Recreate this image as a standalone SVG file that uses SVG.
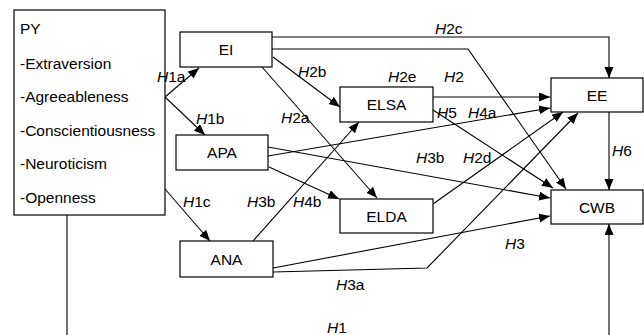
<svg xmlns="http://www.w3.org/2000/svg" width="644" height="335" viewBox="0 0 644 335">
<style>
text{font-family:"Liberation Sans",Arial,sans-serif;font-size:15.5px;fill:#000}
.box{fill:#fff;stroke:#000;stroke-width:1.2}
.c{text-anchor:middle}
.ln{fill:none;stroke:#000;stroke-width:1.1}
.i{font-style:italic}
</style>
<defs>
<marker id="ah" markerUnits="userSpaceOnUse" markerWidth="12" markerHeight="10" refX="11" refY="4.5" orient="auto">
<path d="M0,0 L11,4.5 L0,9 z" fill="#000"/>
</marker>
</defs>
<g id="connectors">
<path class="ln" d="M165,97 L199,68" marker-end="url(#ah)"/>
<path class="ln" d="M165,97 L205,135" marker-end="url(#ah)"/>
<path class="ln" d="M165,189 L210,241" marker-end="url(#ah)"/>
<path class="ln" d="M272,37 H609 V78" marker-end="url(#ah)"/>
<path class="ln" d="M272,49 H468 L566,189" marker-end="url(#ah)"/>
<path class="ln" d="M273,57 L340,107" marker-end="url(#ah)"/>
<path class="ln" d="M262,67 L377,198" marker-end="url(#ah)"/>
<path class="ln" d="M433,97 H550" marker-end="url(#ah)"/>
<path class="ln" d="M433,110 L553,188" marker-end="url(#ah)"/>
<path class="ln" d="M268,156 L550,108" marker-end="url(#ah)"/>
<path class="ln" d="M268,147 L550,198" marker-end="url(#ah)"/>
<path class="ln" d="M269,167 L339,199" marker-end="url(#ah)"/>
<path class="ln" d="M253,241 L359,122" marker-end="url(#ah)"/>
<path class="ln" d="M433,204 L563,112" marker-end="url(#ah)"/>
<path class="ln" d="M273,272 L427,268 L578,113" marker-end="url(#ah)"/>
<path class="ln" d="M273,268 L550,216" marker-end="url(#ah)"/>
<path class="ln" d="M609,112 V190" marker-end="url(#ah)"/>
<path class="ln" d="M67,215 V345 H609 V224" marker-end="url(#ah)"/>
</g>
<g id="PY">
<rect class="box" x="14" y="10" width="151" height="205"/>
<text x="20" y="34">PY</text>
<text x="20" y="69">-Extraversion</text>
<text x="20" y="102">-Agreeableness</text>
<text x="20" y="136">-Conscientiousness</text>
<text x="20" y="169">-Neuroticism</text>
<text x="20" y="203">-Openness</text>
</g>
<g id="EI"><rect class="box" x="180" y="32" width="92" height="35"/><text class="c" x="226" y="55">EI</text></g>
<g id="ELSA"><rect class="box" x="340" y="87" width="93" height="35"/><text class="c" x="386.5" y="110">ELSA</text></g>
<g id="APA"><rect class="box" x="176" y="135" width="92" height="35"/><text class="c" x="222" y="158">APA</text></g>
<g id="ELDA"><rect class="box" x="340" y="199" width="93" height="34"/><text class="c" x="386.5" y="221.5">ELDA</text></g>
<g id="ANA"><rect class="box" x="180" y="241" width="93" height="36"/><text class="c" x="226.5" y="264.5">ANA</text></g>
<g id="EE"><rect class="box" x="551" y="78" width="92" height="34"/><text class="c" x="597" y="100.5">EE</text></g>
<g id="CWB"><rect class="box" x="551" y="190" width="92" height="34"/><text class="c" x="597" y="212.5">CWB</text></g>
<g id="labels">
<text x="157" y="82"><tspan class="i">H</tspan>1a</text>
<text x="196" y="124"><tspan class="i">H</tspan>1b</text>
<text x="183" y="207"><tspan class="i">H</tspan>1c</text>
<text x="435" y="34"><tspan class="i">H</tspan>2c</text>
<text x="298" y="77"><tspan class="i">H</tspan>2b</text>
<text x="281" y="123"><tspan class="i">H</tspan>2a</text>
<text x="388" y="82"><tspan class="i">H</tspan>2e</text>
<text x="444" y="82"><tspan class="i">H</tspan>2</text>
<text x="437" y="118"><tspan class="i">H</tspan>5</text>
<text x="468" y="118"><tspan class="i">H</tspan>4a</text>
<text x="416" y="163"><tspan class="i">H</tspan>3b</text>
<text x="463" y="163"><tspan class="i">H</tspan>2d</text>
<text x="612" y="156"><tspan class="i">H</tspan>6</text>
<text x="247" y="207"><tspan class="i">H</tspan>3b</text>
<text x="293" y="207"><tspan class="i">H</tspan>4b</text>
<text x="505" y="249"><tspan class="i">H</tspan>3</text>
<text x="336" y="290"><tspan class="i">H</tspan>3a</text>
<text x="327" y="333"><tspan class="i">H</tspan>1</text>
</g>
</svg>
